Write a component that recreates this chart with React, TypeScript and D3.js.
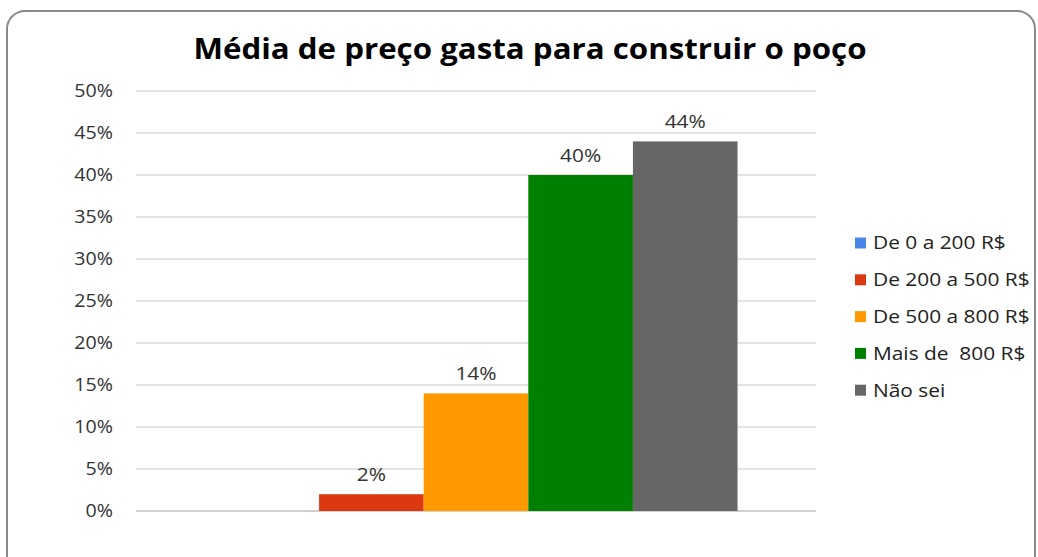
import React from "react";
import * as d3 from "d3";

const title = "Média de preço gasta para construir o poço";
const series = ["De 0 a 200 R$", "De 200 a 500 R$", "De 500 a 800 R$", "Mais de  800 R$", "Não sei"];
const values = [0, 2, 14, 40, 44];
const colors = ["#4A86E8", "#DC3912", "#FF9900", "#008000", "#666666"];
const yTicks = [0, 5, 10, 15, 20, 25, 30, 35, 40, 45, 50];

const W = 1038;
const H = 557;
const plot = { left: 136, right: 816, top: 91, bottom: 511 };

export default function App() {
  const x = d3
    .scaleBand<string>()
    .domain(series)
    .range([plot.left, plot.right])
    .paddingInner(0)
    .paddingOuter(0.75);
  const y = d3.scaleLinear().domain([0, 50]).range([plot.bottom, plot.top]);
  const font = "'Open Sans', 'DejaVu Sans', sans-serif";

  return (
    <svg
      width={W}
      height={H}
      style={{ position: "absolute", left: 0, top: 0, background: "#fff" }}
      fontFamily={font}
    >
      <rect x={0} y={0} width={W} height={H} fill="#fff" />
      <rect
        x={7}
        y={11}
        width={1028}
        height={570}
        rx={18}
        ry={18}
        fill="#fff"
        stroke="#8a8a8a"
        strokeWidth={2}
      />
      <text
        x={530}
        y={59}
        textAnchor="middle"
        fontSize={29}
        fontWeight="bold"
        fill="#000"
        textLength={673}
        lengthAdjust="spacingAndGlyphs"
      >
        {title}
      </text>
      {yTicks.map((t) => (
        <g key={t}>
          <line
            x1={plot.left}
            x2={plot.right}
            y1={y(t)}
            y2={y(t)}
            stroke={t === 0 ? "#d0d0d0" : "#c8c8c8"}
            strokeWidth={t === 0 ? 2 : 1.2}
          />
          <text
            transform={`translate(113,${y(t)}) scale(1.09,1)`}
            dy="0.35em"
            textAnchor="end"
            fontSize={18}
            fill="#333"
          >
            {t}%
          </text>
        </g>
      ))}
      {series.map((s, i) => (
        <g key={s}>
          <rect
            x={x(s)}
            y={y(values[i])}
            width={x.bandwidth()}
            height={y(0) - y(values[i])}
            fill={colors[i]}
          />
          {values[i] > 0 && (
            <text
              transform={`translate(${(x(s) as number) + x.bandwidth() / 2},${y(values[i]) - 13}) scale(1.16,1)`}
              textAnchor="middle"
              fontSize={18}
              fill="#333"
            >
              {values[i]}%
            </text>
          )}
        </g>
      ))}
      {series.map((s, i) => {
        const cy = 243 + i * 36.8;
        return (
          <g key={"leg" + s}>
            <rect x={855} y={cy - 5.5} width={11} height={11} fill={colors[i]} />
            <text
              transform={`translate(873,${cy}) scale(1.16,1)`}
              dy="0.35em"
              fontSize={18}
              fill="#222"
              style={{ whiteSpace: "pre" }}
            >
              {s}
            </text>
          </g>
        );
      })}
    </svg>
  );
}
